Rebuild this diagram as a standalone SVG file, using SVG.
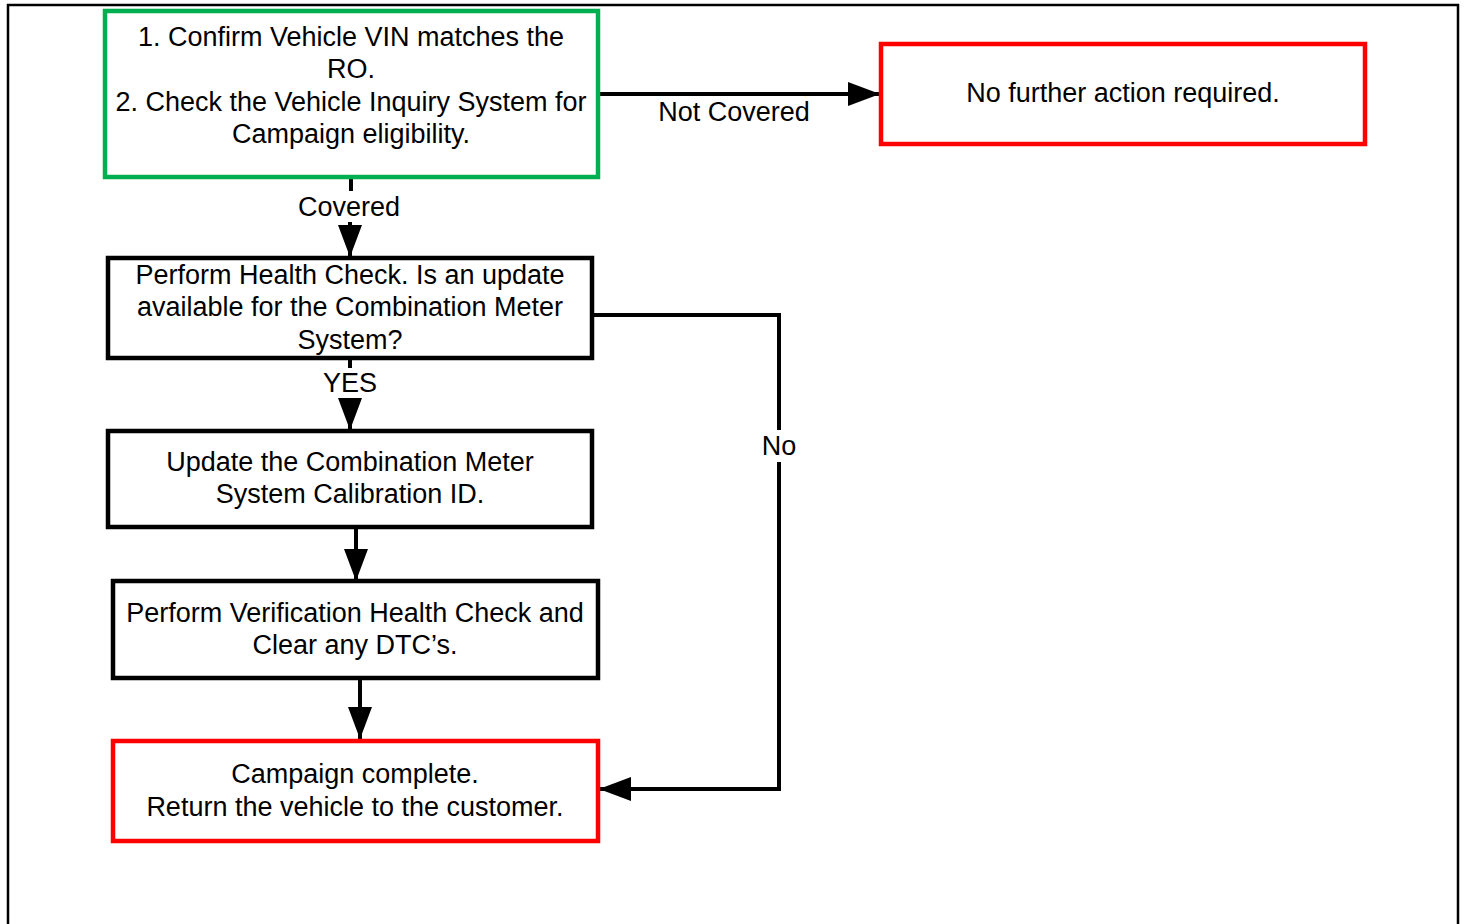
<svg xmlns="http://www.w3.org/2000/svg" width="1465" height="924" viewBox="0 0 1465 924">
<style>
.t{font-family:"Liberation Sans",Arial,sans-serif;font-size:27px;fill:#000;text-anchor:middle}
.box{fill:#fff;stroke:#000;stroke-width:4.5}
.g{stroke:#00B050}
.r{stroke:#FF0000}
.ln{fill:none;stroke:#000;stroke-width:4}
</style>
<defs>
<marker id="arr" markerUnits="userSpaceOnUse" markerWidth="33" markerHeight="24" refX="32" refY="12" orient="auto">
<path d="M0,0 L32,12 L0,24 Z" fill="#000"/>
</marker>
</defs>
<rect x="0" y="0" width="1465" height="924" fill="#fff"/>
<path d="M8,924 V5 H1458 V924" fill="none" stroke="#000" stroke-width="2.5"/>

<g id="connectors">
<path class="ln" d="M598,94 H880" marker-end="url(#arr)"/>
<text class="t" x="734" y="121">Not Covered</text>
<path class="ln" d="M351,177 V191"/>
<path class="ln" d="M350,222 V257" marker-end="url(#arr)"/>
<text class="t" x="349" y="216">Covered</text>
<path class="ln" d="M350,353 V368"/>
<path class="ln" d="M350,398 V430" marker-end="url(#arr)"/>
<text class="t" x="350" y="392">YES</text>
<path class="ln" d="M592,315 H779 V430"/>
<path class="ln" d="M779,462 V789 H599" marker-end="url(#arr)"/>
<text class="t" x="779" y="455">No</text>
<path class="ln" d="M356,527 V581" marker-end="url(#arr)"/>
<path class="ln" d="M360,678 V739" marker-end="url(#arr)"/>
</g>

<g id="n1">
<rect class="box g" x="105" y="11" width="493" height="166"/>
<text class="t" x="351" y="46">1. Confirm Vehicle VIN matches the</text>
<text class="t" x="351" y="78">RO.</text>
<text class="t" x="351" y="111">2. Check the Vehicle Inquiry System for</text>
<text class="t" x="351" y="143">Campaign eligibility.</text>
</g>
<g id="n2">
<rect class="box r" x="881" y="44" width="484" height="100"/>
<text class="t" x="1123" y="102">No further action required.</text>
</g>
<g id="n3">
<rect class="box" x="108" y="258" width="484" height="100"/>
<text class="t" x="350" y="284">Perform Health Check. Is an update</text>
<text class="t" x="350" y="316">available for the Combination Meter</text>
<text class="t" x="350" y="349">System?</text>
</g>
<g id="n4">
<rect class="box" x="108" y="431" width="484" height="96"/>
<text class="t" x="350" y="471">Update the Combination Meter</text>
<text class="t" x="350" y="503">System Calibration ID.</text>
</g>
<g id="n5">
<rect class="box" x="113" y="581" width="485" height="97"/>
<text class="t" x="355" y="622">Perform Verification Health Check and</text>
<text class="t" x="355" y="654">Clear any DTC’s.</text>
</g>
<g id="n6">
<rect class="box r" x="113" y="741" width="485" height="100"/>
<text class="t" x="355" y="783">Campaign complete.</text>
<text class="t" x="355" y="816">Return the vehicle to the customer.</text>
</g>
</svg>
